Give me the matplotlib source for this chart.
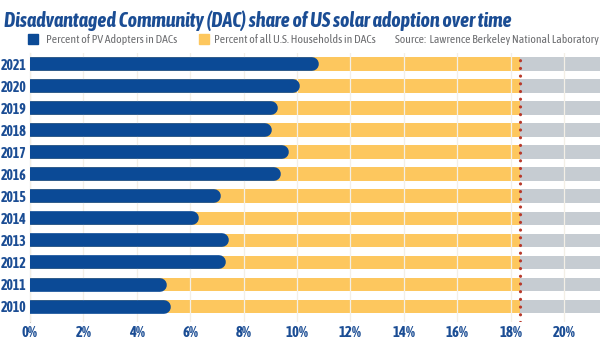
import matplotlib.pyplot as plt
from matplotlib.patches import Rectangle

# Dados
years = [2010, 2011, 2012, 2013, 2014, 2015, 2016, 2017, 2018, 2019, 2020, 2021]
pv_adopters = [5.27, 5.14, 7.34, 7.43, 6.34, 7.14, 9.39, 9.7, 9.05, 9.3, 10.1, 10.8]
households = 18.35
x_max = 21.35
x_ticks = [0, 2, 4, 6, 8, 10, 12, 14, 16, 18, 20]
x_labels = [f"{t}%" for t in x_ticks]

blue = '#0b4a96'
yellow = '#fdc75e'
grey = '#c6ccd2'
red = '#b8392b'
text_blue = '#1b4d94'

plt.rcParams['font.family'] = ['Asap Condensed', 'DejaVu Sans']

fig = plt.figure(figsize=(6, 3.59), dpi=100)
W, H = 600, 359
ax = fig.add_axes([30 / W, 1 - 322 / H, 1 - 30 / W, (322 - 53) / H])

ypos = list(range(len(years)))
bar_h = 0.62

# barras de fundo: amarelo até a média dos domicílios, cinza depois
ax.barh(ypos, [households] * len(years), height=bar_h, color=yellow, zorder=1)
ax.barh(ypos, [x_max - households] * len(years), left=households,
        height=bar_h, color=grey, zorder=1)

ax.set_xlim(0, x_max)
ax.set_ylim(-0.7, 11.5)

# barras azuis com ponta arredondada
px_per_unit_y = (322 - 53) / (11.5 + 0.7)
lw_px = bar_h * px_per_unit_y
lw_pt = lw_px * 72 / 100
px_per_unit_x = (W - 30) / x_max
r = (lw_px / 2) / px_per_unit_x
for y, v in zip(ypos, pv_adopters):
    ax.plot([0, v - r], [y, y], color=blue, lw=lw_pt,
            solid_capstyle='round', zorder=3)

# linha pontilhada vermelha
ax.axvline(households, color=red, lw=2.3, linestyle=(0, (0.01, 2.4)),
           dash_capstyle='round', zorder=4)

ax.set_xticks(x_ticks)
ax.set_xticklabels(x_labels, fontsize=10.5, fontweight='bold', color=text_blue)
ax.set_yticks(ypos)
ax.set_yticklabels([str(y) for y in years], fontsize=10, fontweight='bold',
                   color=text_blue)
ax.tick_params(axis='x', length=0, pad=3)
ax.tick_params(axis='y', length=0, pad=2.5)

ax.set_axisbelow(False)
ax.xaxis.grid(True, color='#f3efe6', lw=0.9)
for s in ['top', 'right', 'bottom']:
    ax.spines[s].set_visible(False)
ax.spines['left'].set_color('#c8c8c8')
ax.spines['left'].set_linewidth(0.8)

# título e legenda
fig.text(4 / W, 1 - 27 / H, "Disadvantaged Community (DAC) share of US solar adoption over time",
         fontsize=14.4, fontweight='bold', fontstyle='italic', color=text_blue,
         va='baseline', ha='left')

fig.patches.append(Rectangle((28 / W, 1 - 43.5 / H), 9.5 / W, 9.5 / H,
                             transform=fig.transFigure, color=blue))
fig.text(45.5 / W, 1 - 39.5 / H, "Percent of PV Adopters in DACs", fontsize=8.5,
         color='#6d6e71', va='center', ha='left')
fig.patches.append(Rectangle((199 / W, 1 - 43.5 / H), 9.5 / W, 9.5 / H,
                             transform=fig.transFigure, color=yellow))
fig.text(214 / W, 1 - 39.5 / H, "Percent of all U.S. Households in DACs", fontsize=8.5,
         color='#6d6e71', va='center', ha='left')
fig.text(395 / W, 1 - 39.5 / H, "Source:  Lawrence Berkeley National Laboratory",
         fontsize=8.4, color='#6d6e71', va='center', ha='left')

fig.savefig('out.png', dpi=100)
